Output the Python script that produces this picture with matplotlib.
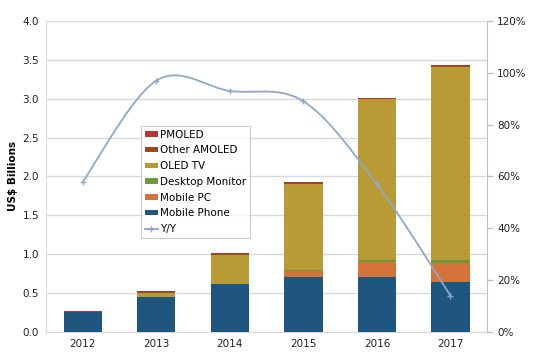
import matplotlib.pyplot as plt
import numpy as np
from matplotlib.patches import Patch
from matplotlib.lines import Line2D

years = ['2012', '2013', '2014', '2015', '2016', '2017']

# stacked segments, US$ billions (bottom to top)
mobile_phone = [0.25, 0.45, 0.62, 0.71, 0.71, 0.64]
mobile_pc = [0.01, 0.0, 0.0, 0.08, 0.19, 0.25]
desktop_monitor = [0.0, 0.0, 0.0, 0.005, 0.03, 0.04]
oled_tv = [0.0, 0.05, 0.37, 1.11, 2.06, 2.48]
other_amoled = [0.0, 0.01, 0.01, 0.01, 0.01, 0.01]
pmoled = [0.01, 0.01, 0.015, 0.015, 0.01, 0.01]

# year over year growth, percent
yoy = [58, 97, 93, 89, 57, 14]

series = [
    ('Mobile Phone', mobile_phone, '#1f5680'),
    ('Mobile PC', mobile_pc, '#d4743a'),
    ('Desktop Monitor', desktop_monitor, '#6b9a3c'),
    ('OLED TV', oled_tv, '#b99b35'),
    ('Other AMOLED', other_amoled, '#9b4a1c'),
    ('PMOLED', pmoled, '#b83434'),
]
line_color = '#8ea8c8'

plt.rcParams['font.family'] = 'DejaVu Sans'

fig = plt.figure(figsize=(5.36, 3.55), dpi=100)
ax = fig.add_axes([0.086, 0.065, 0.823, 0.876])

x = np.arange(len(years))
bottom = np.zeros(len(years))
for name, vals, col in series:
    ax.bar(x, vals, width=0.52, bottom=bottom, color=col, edgecolor='none', zorder=3)
    bottom += np.array(vals)

ax.set_xlim(-0.5, len(years) - 0.5)
ax.set_ylim(0, 4.0)
ax.set_yticks(np.arange(0, 4.01, 0.5))
ax.set_yticklabels([f'{v:.1f}' for v in np.arange(0, 4.01, 0.5)])
ax.set_xticks(x)
ax.set_xticklabels(years)
ax.grid(axis='y', color='#d9d9d9', linewidth=1, zorder=0)
ax.tick_params(axis='both', length=0, labelsize=7.5, colors='#222222', pad=5)
ax.set_ylabel('US$ Billions', fontsize=7.5, fontweight='bold', labelpad=3)
for s in ['top', 'right']:
    ax.spines[s].set_visible(False)
ax.spines['left'].set_color('#d9d9d9')
ax.spines['bottom'].set_color('#d9d9d9')

# right axis with smoothed growth line
ax2 = ax.twinx()
ax2.set_ylim(0, 120)
ax2.set_yticks(range(0, 121, 20))
ax2.set_yticklabels([f'{v}%' for v in range(0, 121, 20)])
ax2.tick_params(axis='y', length=4, width=1, labelsize=7.5, pad=3, colors='#bfbfbf', labelcolor='#222222')
for s in ['top', 'left', 'bottom']:
    ax2.spines[s].set_visible(False)
ax2.spines['right'].set_color('#bfbfbf')

# catmull-rom smoothing like the spreadsheet's smoothed line
px = x.astype(float)
py = np.array(yoy, dtype=float)
P = np.column_stack([px, py])
P = np.vstack([P[0], P, P[-1]])
curve = []
for i in range(1, len(P) - 2):
    p0, p1, p2, p3 = P[i - 1], P[i], P[i + 1], P[i + 2]
    t = np.linspace(0, 1, 30)[:, None]
    c = 0.5 * ((2 * p1) + (-p0 + p2) * t + (2 * p0 - 5 * p1 + 4 * p2 - p3) * t ** 2
               + (-p0 + 3 * p1 - 3 * p2 + p3) * t ** 3)
    curve.append(c)
curve = np.vstack(curve)
ax2.plot(curve[:, 0], curve[:, 1], color=line_color, linewidth=1.3, zorder=4)
ax2.plot(px, py, linestyle='none', marker='+', markersize=4, color=line_color, zorder=5)

handles = [Patch(facecolor=col, label=name) for name, vals, col in reversed(series)]
handles.append(Line2D([], [], color=line_color, marker='+', markersize=4, linewidth=1.3, label='Y/Y'))
leg = fig.legend(handles=handles, loc='upper left', bbox_to_anchor=(0.263, 0.645),
                 fontsize=7.5, frameon=True, fancybox=False, edgecolor='#bfbfbf',
                 handlelength=1.3, handleheight=0.45, handletextpad=0.2,
                 labelspacing=0.55, borderpad=0.35, borderaxespad=0)
leg.get_frame().set_linewidth(0.8)

plt.savefig('out.png', dpi=100)
